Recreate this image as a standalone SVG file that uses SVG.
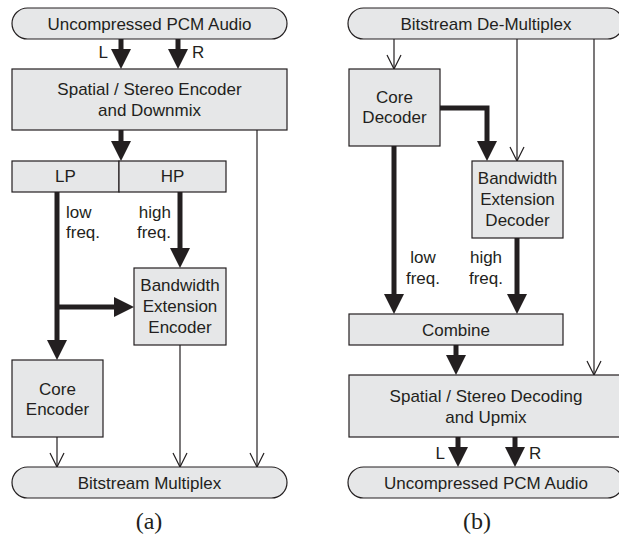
<svg xmlns="http://www.w3.org/2000/svg" width="619" height="535" viewBox="0 0 619 535">
<style>
.box{fill:#e6e7e8;stroke:#231f20;stroke-width:1.2}
.t{font-family:"Liberation Sans",Arial,sans-serif;font-size:17px;fill:#231f20;text-anchor:middle}
.tl{text-anchor:start}
.tr{text-anchor:end}
.cap{font-family:"Liberation Serif","Times New Roman",serif;font-size:24px;fill:#231f20;text-anchor:middle}
.thick{fill:none;stroke:#231f20;stroke-width:5;marker-end:url(#hd)}
.thin{fill:none;stroke:#231f20;stroke-width:1.2;marker-end:url(#op)}
</style>
<defs>
<marker id="hd" markerUnits="userSpaceOnUse" markerWidth="20" markerHeight="20" viewBox="0 0 20 20" refX="8" refY="10" orient="auto">
<path d="M0,0 L20,10 L0,20 z" fill="#231f20"/>
</marker>
<marker id="op" markerUnits="userSpaceOnUse" markerWidth="16" markerHeight="16" viewBox="-1 -1 16 16" refX="14" refY="7" orient="auto">
<path d="M0,0 L14,7 L0,14" fill="none" stroke="#231f20" stroke-width="1.2"/>
</marker>
</defs>
<rect width="619" height="535" fill="#fff"/>

<g id="connectors">
<!-- panel a -->
<path class="thick" d="M121,39 V57"/>
<path class="thick" d="M178,39 V57"/>
<path class="thick" d="M121,130 V149"/>
<path class="thick" d="M57,192 V348"/>
<path class="thick" d="M57,307 H122"/>
<path class="thick" d="M180,192 V256"/>
<path class="thin" d="M180,345 V467"/>
<path class="thin" d="M57,437 V467"/>
<path class="thin" d="M257,130 V467"/>
<!-- panel b -->
<path class="thin" d="M394,39 V69"/>
<path class="thick" d="M440,108 H487 V149" stroke-linejoin="miter"/>
<path class="thin" d="M517,39 V161"/>
<path class="thin" d="M594,39 V375"/>
<path class="thick" d="M394,146 V302"/>
<path class="thick" d="M517,238 V302"/>
<path class="thick" d="M456,345 V363"/>
<path class="thick" d="M458,437 V455"/>
<path class="thick" d="M515,437 V455"/>
</g>

<g id="a_pcm_in">
<rect class="box" x="12" y="8" width="275" height="31" rx="15.5"/>
<text class="t" x="149.5" y="29.5">Uncompressed PCM Audio</text>
</g>
<g id="a_lr_labels">
<text class="t tr" x="108" y="58">L</text>
<text class="t tl" x="192" y="58">R</text>
</g>
<g id="a_spatial">
<rect class="box" x="12" y="69" width="275" height="61"/>
<text class="t" x="149.5" y="95">Spatial / Stereo Encoder</text>
<text class="t" x="149.5" y="116">and Downmix</text>
</g>
<g id="a_lp">
<rect class="box" x="12" y="161" width="107" height="31"/>
<text class="t" x="65.5" y="182">LP</text>
</g>
<g id="a_hp">
<rect class="box" x="119" y="161" width="107" height="31"/>
<text class="t" x="172.5" y="182">HP</text>
</g>
<g id="a_freq_labels">
<text class="t tl" x="66" y="218">low</text>
<text class="t tl" x="66" y="238">freq.</text>
<text class="t tr" x="171" y="218">high</text>
<text class="t tr" x="171" y="238">freq.</text>
</g>
<g id="a_bwe">
<rect class="box" x="134" y="268" width="92" height="77"/>
<text class="t" x="180" y="291">Bandwidth</text>
<text class="t" x="180" y="312">Extension</text>
<text class="t" x="180" y="333">Encoder</text>
</g>
<g id="a_core">
<rect class="box" x="12" y="360" width="91" height="77"/>
<text class="t" x="57.5" y="395">Core</text>
<text class="t" x="57.5" y="415">Encoder</text>
</g>
<g id="a_mux">
<rect class="box" x="12" y="467" width="275" height="31" rx="15.5"/>
<text class="t" x="149.5" y="488.5">Bitstream Multiplex</text>
</g>
<text class="cap" x="149" y="529">(a)</text>

<g id="b_demux">
<rect class="box" x="348" y="8" width="275" height="31" rx="15.5"/>
<text class="t" x="486" y="29.5">Bitstream De-Multiplex</text>
</g>
<g id="b_core">
<rect class="box" x="349" y="69" width="91" height="77"/>
<text class="t" x="394.5" y="103">Core</text>
<text class="t" x="394.5" y="123">Decoder</text>
</g>
<g id="b_bwe">
<rect class="box" x="472" y="161" width="91" height="77"/>
<text class="t" x="517.5" y="184">Bandwidth</text>
<text class="t" x="517.5" y="205">Extension</text>
<text class="t" x="517.5" y="226">Decoder</text>
</g>
<g id="b_freq_labels">
<text class="t" x="423" y="263">low</text>
<text class="t" x="423" y="284">freq.</text>
<text class="t" x="486" y="263">high</text>
<text class="t" x="486" y="284">freq.</text>
</g>
<g id="b_combine">
<rect class="box" x="349" y="314" width="214" height="31"/>
<text class="t" x="456" y="335.5">Combine</text>
</g>
<g id="b_spatial">
<rect class="box" x="349" y="375" width="274" height="62"/>
<text class="t" x="486" y="402">Spatial / Stereo Decoding</text>
<text class="t" x="486" y="423">and Upmix</text>
</g>
<g id="b_lr_labels">
<text class="t tr" x="445" y="459">L</text>
<text class="t tl" x="529" y="459">R</text>
</g>
<g id="b_pcm_out">
<rect class="box" x="348" y="467" width="275" height="31" rx="15.5"/>
<text class="t" x="486" y="488.5">Uncompressed PCM Audio</text>
</g>
<text class="cap" x="477" y="529">(b)</text>
</svg>
